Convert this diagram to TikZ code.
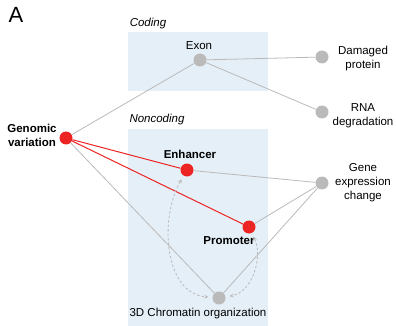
\documentclass[tikz,border=0pt]{standalone}
\usepackage{fontspec}
\setmainfont{Liberation Sans}
\tikzset{>=stealth}
\definecolor{dotgray}{RGB}{186,186,186}
\definecolor{dotred}{RGB}{236,36,36}
\definecolor{boxblue}{RGB}{229,239,247}
\newcommand{\basefont}{\fontsize{11.5}{14}\selectfont}
\begin{document}
\begin{tikzpicture}[x=1pt,y=-1pt,font=\basefont,
  gdot/.style={circle,fill=dotgray,inner sep=0pt,minimum size=13pt},
  rdot/.style={circle,fill=dotred,inner sep=0pt,minimum size=13pt},
  lbl/.style={align=center,inner sep=0pt},
  blbl/.style={lbl,font=\basefont\bfseries},
  ilbl/.style={lbl,font=\basefont\itshape},
  link/.style={dotgray,line width=0.8pt},
  rlink/.style={dotred,line width=1pt},
  loopline/.style={dotgray,dash pattern=on 2.5pt off 2pt,line width=0.8pt,<->,shorten <=4pt,shorten >=4pt}]
\useasboundingbox (0,0) rectangle (396,326);
\fill[boxblue] (128,32) rectangle (268,91);
\fill[boxblue] (128,129) rectangle (268,326);
\node (panel) at (16,15) {\fontsize{22}{26}\selectfont A};
\node[ilbl] (coding) at (148,24) {Coding};
\node[ilbl] (noncoding) at (157,120) {Noncoding};
% dots
\node[rdot] (gv) at (66,138) {};
\node[gdot] (exon) at (200,60) {};
\node[gdot] (prot) at (322,57) {};
\node[gdot] (rna) at (322,112) {};
\node[rdot] (enh) at (187,170) {};
\node[rdot] (prom) at (249,227) {};
\node[gdot] (gene) at (322,183) {};
\node[gdot] (chrom) at (219,298) {};
% labels
\node[blbl] (gvl) at (32,135) {Genomic\\variation};
\node[lbl] (exonl) at (199,46) {Exon};
\node[lbl] (protl) at (363,59) {Damaged\\protein};
\node[lbl] (rnal) at (363,116) {RNA\\degradation};
\node[blbl] (enhl) at (190,154) {Enhancer};
\node[blbl] (proml) at (229,241) {Promoter};
\node[lbl] (genel) at (363,183) {Gene\\expression\\change};
\node[lbl] (chroml) at (198,314) {3D Chromatin organization};
% links
\draw[link] (gv) -- (exon);
\draw[link] (gv) -- (chrom);
\draw[rlink] (gv) -- (enh);
\draw[rlink] (gv) -- (prom);
\foreach \t in {prot,rna}
\draw[link] (exon) -- (\t);
\foreach \s in {enh,prom,chrom}
\draw[link] (\s) -- (gene);
\draw[loopline] (enh) to[out=240,in=175] (chrom);
\draw[loopline] (prom) to[out=-65,in=10] (chrom);
\end{tikzpicture}
\end{document}
